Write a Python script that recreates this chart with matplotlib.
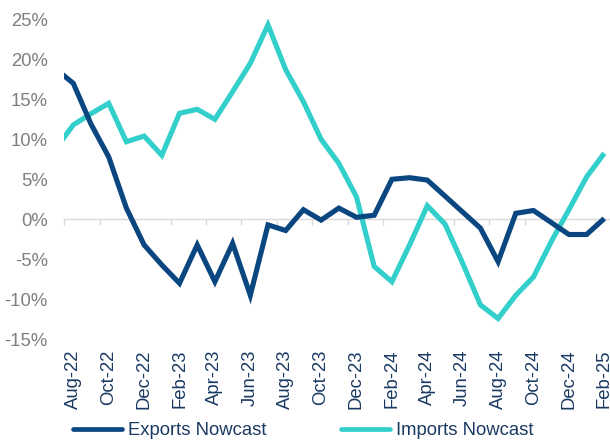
import numpy as np
import matplotlib
matplotlib.use("Agg")
import matplotlib.pyplot as plt
from matplotlib.ticker import FixedLocator, FuncFormatter

plt.rcParams['font.family'] = ['Liberation Sans', 'DejaVu Sans']

months = ["Jul-22", "Aug-22", "Sep-22", "Oct-22", "Nov-22", "Dec-22",
          "Jan-23", "Feb-23", "Mar-23", "Apr-23", "May-23", "Jun-23",
          "Jul-23", "Aug-23", "Sep-23", "Oct-23", "Nov-23", "Dec-23",
          "Jan-24", "Feb-24", "Mar-24", "Apr-24", "May-24", "Jun-24",
          "Jul-24", "Aug-24", "Sep-24", "Oct-24", "Nov-24", "Dec-24",
          "Jan-25", "Feb-25"]

exports = [18.8, 17.0, 11.9, 7.8, 1.4, -3.2,
           -5.7, -8.0, -3.2, -7.8, -3.0, -9.5,
           -0.7, -1.4, 1.2, -0.1, 1.4, 0.25,
           0.5, 5.0, 5.2, 4.9, 2.9, 0.9,
           -1.1, -5.3, 0.75, 1.1, -0.4, -1.9,
           -1.9, 0.1]

imports = [8.8, 11.8, 13.2, 14.5, 9.7, 10.4,
           8.0, 13.25, 13.75, 12.5, 15.95, 19.5,
           24.3, 18.7, 14.7, 10.0, 7.0, 2.8,
           -5.9, -7.8, -3.2, 1.7, -0.6, -5.5,
           -10.7, -12.4, -9.5, -7.2, -2.8, 1.2,
           5.3, 8.25]

series_names = ["Exports Nowcast", "Imports Nowcast"]
y_ticks = [-15, -10, -5, 0, 5, 10, 15, 20, 25]

EXP_COLOR = "#0A4680"
IMP_COLOR = "#33CFCB"
TEXT_NAVY = "#1B3A63"
GRAY_TEXT = "#7F7F7F"
GRID = "#D9D9D9"
FS = 13.3

W, H = 610, 441
fig = plt.figure(figsize=(W / 100, H / 100), dpi=100)

left_px, right_px = 64.45, 610.0
top_px, bot_px = 19.3, 339.3
ax = fig.add_axes([left_px / W, 1 - bot_px / H,
                   (right_px - left_px) / W, (bot_px - top_px) / H])

x = np.arange(len(months))
ax.plot(x, exports, color=EXP_COLOR, lw=3.7, solid_joinstyle='miter',
        solid_capstyle='butt', label=series_names[0], zorder=3)
ax.plot(x, imports, color=IMP_COLOR, lw=3.7, solid_joinstyle='miter',
        solid_capstyle='butt', label=series_names[1], zorder=2)

px_per_month = 17.7
ax.set_xlim(0.5, 0.5 + (right_px - left_px) / px_per_month)
ax.set_ylim(-15, 25)

for s in ax.spines.values():
    s.set_visible(False)

# zero axis line with boundary tick marks
ax.spines['bottom'].set_visible(True)
ax.spines['bottom'].set_position(('data', 0))
ax.spines['bottom'].set_color(GRID)
ax.spines['bottom'].set_linewidth(1.0)
ax.spines['bottom'].set_zorder(1)
boundaries = np.arange(0.5, len(months), 2)
ax.xaxis.set_major_locator(FixedLocator(boundaries))
ax.tick_params(axis='x', which='major', length=4, width=1.0, color=GRID,
               direction='out', labelbottom=False)

# labels at the bottom
label_pos = x[1::2]
sec = ax.secondary_xaxis('bottom')
sec.set_xticks(label_pos, [months[i] for i in label_pos])
sec.spines['bottom'].set_visible(False)
sec.tick_params(axis='x', length=0, pad=7.3, labelsize=FS,
                labelcolor=TEXT_NAVY, labelrotation=90)

ax.set_yticks(y_ticks)
ax.yaxis.set_major_formatter(FuncFormatter(lambda v, p: f"{v:.0f}%"))
ax.tick_params(axis='y', length=0, pad=12.0, labelsize=FS, labelcolor=GRAY_TEXT)

leg = fig.legend(loc='center left', bbox_to_anchor=(73.0 / W, 1 - 430.7 / H),
                 ncol=2, frameon=False, fontsize=FS, borderpad=0,
                 borderaxespad=0, handlelength=2.65, handletextpad=0.35,
                 columnspacing=4.0)
for t in leg.get_texts():
    t.set_color(TEXT_NAVY)
for h in leg.get_lines():
    h.set_linewidth(3.4)
    h.set_solid_capstyle('round')

fig.savefig("out.png", dpi=100)
